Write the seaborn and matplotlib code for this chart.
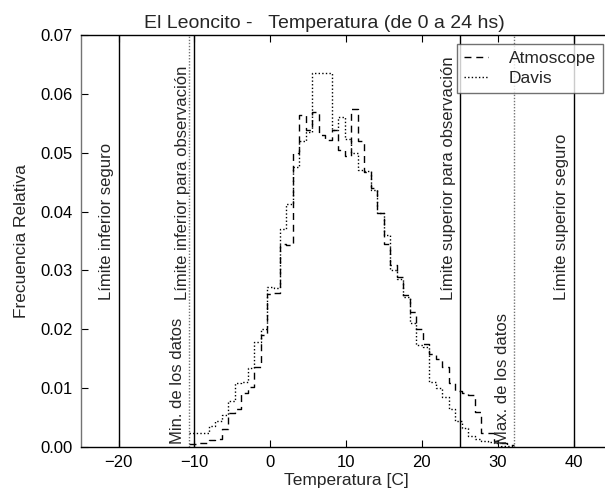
import numpy as np
import pandas as pd
import matplotlib
matplotlib.use("Agg")
import matplotlib.pyplot as plt
import seaborn as sns

# ---------------- data ----------------
data_min = -10.7   # "Min. de los datos"
data_max = 32.1    # "Max. de los datos"
n_bins = 50

atmoscope = [0.0005, 0.0007, 0.0007, 0.0012, 0.0013, 0.0030, 0.0058, 0.0065, 0.0092, 0.0102,
             0.0136, 0.0190, 0.0260, 0.0262, 0.0345, 0.0343, 0.0500, 0.0564, 0.0538, 0.0570,
             0.0530, 0.0521, 0.0538, 0.0505, 0.0495, 0.0575, 0.0520, 0.0468, 0.0440, 0.0397,
             0.0345, 0.0310, 0.0289, 0.0258, 0.0230, 0.0201, 0.0175, 0.0158, 0.0150, 0.0136,
             0.0108, 0.0095, 0.0092, 0.0088, 0.0060, 0.0023, 0.0023, 0.0011, 0.0006, 0.0003]

davis = [0.0023, 0.0023, 0.0023, 0.0035, 0.0045, 0.0055, 0.0078, 0.0108, 0.0110, 0.0135,
         0.0178, 0.0200, 0.0272, 0.0270, 0.0370, 0.0413, 0.0475, 0.0520, 0.0535, 0.0635,
         0.0635, 0.0635, 0.0538, 0.0560, 0.0524, 0.0500, 0.0470, 0.0469, 0.0436, 0.0397,
         0.0360, 0.0300, 0.0285, 0.0255, 0.0210, 0.0173, 0.0170, 0.0110, 0.0100, 0.0085,
         0.0065, 0.0045, 0.0032, 0.0018, 0.0014, 0.0010, 0.0008, 0.0006, 0.0002, 0.0001]

limits_solid = [-20, -10, 25, 40]
limits_solid_labels = ["Límite inferior seguro", "Límite inferior para observación",
                       "Límite superior para observación", "Límite superior seguro"]
limits_data = [data_min, data_max]
limits_data_labels = ["Min. de los datos", "Max. de los datos"]

xticks = [-20, -10, 0, 10, 20, 30, 40]
xtick_labels = ["\u221220", "\u221210", "0", "10", "20", "30", "40"]
yticks = [0.00, 0.01, 0.02, 0.03, 0.04, 0.05, 0.06, 0.07]
ytick_labels = ["0.00", "0.01", "0.02", "0.03", "0.04", "0.05", "0.06", "0.07"]

title = "El Leoncito -   Temperatura (de 0 a 24 hs)"
xlabel = "Temperatura [C]"
ylabel = "Frecuencia Relativa"

# ---------------- style ----------------
sns.set_theme(style="ticks")
plt.rcParams["font.family"] = ["Liberation Sans", "DejaVu Sans"]
plt.rcParams["axes.linewidth"] = 1.0

edges = [float(e) for e in np.linspace(data_min, data_max, n_bins + 1)]
centers = [(a + b) / 2 for a, b in zip(edges[:-1], edges[1:])]
df_a = pd.DataFrame({"temp": centers, "freq": atmoscope})
df_d = pd.DataFrame({"temp": centers, "freq": davis})

fig = plt.figure(figsize=(6.05, 4.91), dpi=100)
ax = fig.add_axes([80.7 / 605, 44 / 491, (611.5 - 80.7) / 605, 412 / 491])

sns.histplot(data=df_a, x="temp", weights="freq", bins=edges, element="step", fill=False,
             color="black", linewidth=1.0, linestyle=(0, (5, 3.5)), label="Atmoscope", ax=ax)
sns.histplot(data=df_d, x="temp", weights="freq", bins=edges, element="step", fill=False,
             color="black", linewidth=1.0, linestyle=(0, (1, 1.6)), label="Davis", ax=ax)

for xv, lab in zip(limits_solid, limits_solid_labels):
    ax.axvline(xv, color="black", linewidth=1.0)
    ax.annotate(lab, xy=(xv, 0.025), xytext=(-3, 0), textcoords="offset points",
                rotation=90, ha="right", va="bottom", fontsize=12)
for xv, lab in zip(limits_data, limits_data_labels):
    ax.axvline(xv, color="0.45", linewidth=1.0, linestyle=(0, (1, 1.2)))
    ax.annotate(lab, xy=(xv, 0.0), xytext=(-3, 2), textcoords="offset points",
                rotation=90, ha="right", va="bottom", fontsize=12)

ax.set_xlim(-25, 45)
ax.set_ylim(0, 0.07)
ax.set_xticks(xticks)
ax.set_xticklabels(xtick_labels)
ax.set_yticks(yticks)
ax.set_yticklabels(ytick_labels)
ax.tick_params(direction="in", top=True, right=True, length=5, width=0.8,
               labelsize=12, colors="black", pad=6)
for s in ax.spines.values():
    s.set_visible(True)
    s.set_color("black")
ax.spines["left"].set_color("0.45")

ax.set_xlabel(xlabel, fontsize=12.5, labelpad=2)
ax.set_ylabel(ylabel, fontsize=12.5, labelpad=8)
ax.set_title(title, fontsize=14, pad=5, x=0.46)

leg = ax.legend(loc="upper right", fontsize=12.5, frameon=True, fancybox=False,
                borderaxespad=0.5, handlelength=1.4, handletextpad=1.2,
                borderpad=0.4, labelspacing=0.3)
leg.get_frame().set_edgecolor("0.3")
leg.get_frame().set_linewidth(1.0)

fig.savefig("out.png", dpi=100)
